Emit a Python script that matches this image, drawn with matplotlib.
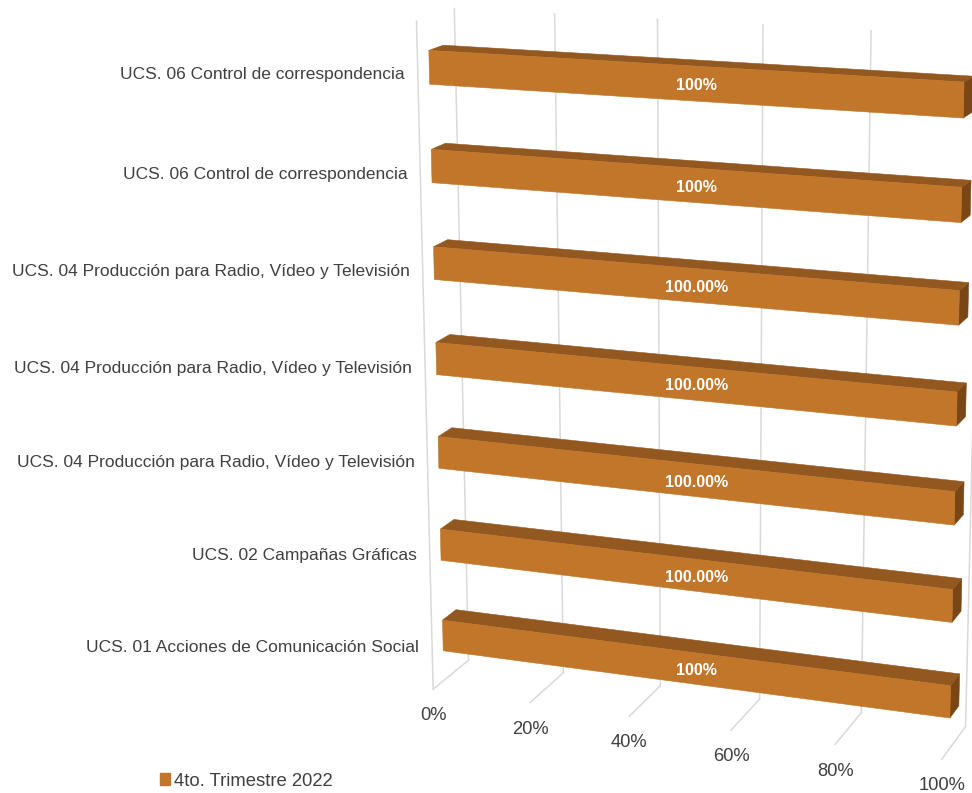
import matplotlib
matplotlib.use('Agg')
import matplotlib.pyplot as plt
from matplotlib.patches import Patch
import numpy as np

# datos (de abajo hacia arriba)
categorias = [
    'UCS. 01 Acciones de Comunicación Social',
    'UCS. 02 Campañas Gráficas',
    'UCS. 04 Producción para Radio, Vídeo y Televisión',
    'UCS. 04 Producción para Radio, Vídeo y Televisión',
    'UCS. 04 Producción para Radio, Vídeo y Televisión',
    'UCS. 06 Control de correspondencia',
    'UCS. 06 Control de correspondencia',
]
valores = [100, 100, 100, 100, 100, 100, 100]
decimales = [0, 2, 2, 2, 2, 0, 0]
ticks = [0, 20, 40, 60, 80, 100]
serie = '4to. Trimestre 2022'

# camara 3D -> pixeles (x = valor/100, y = profundidad, z = categoria/7)
CAMERA = np.array([
    [453.296148, 47.4812069, -40.6747614, 433.179922],
    [25.3598380, -11.7948092, -669.210511, 689.209482],
    [-0.0588098213, 0.0260801958, -0.0576104764, 1.0],
])
N = len(categorias)
VMAX = 100.0


def proyectar(v, d, z):
    h = CAMERA @ np.array([v / VMAX, d, z / N, 1.0])
    return h[0] / h[2], h[1] / h[2]


def cara(ax, puntos, color):
    xy = [proyectar(*p) for p in puntos]
    xs, ys = zip(*xy)
    ax.fill(xs, ys, color=color, ec=color, lw=0.4, zorder=3)
    return np.mean(xs), np.mean(ys)


plt.rcParams['font.family'] = ['Liberation Sans', 'DejaVu Sans']

fig = plt.figure(figsize=(9.72, 7.93), dpi=100)
ax = fig.add_axes([0, 0, 1, 1])
ax.set_xlim(0, 972)
ax.set_ylim(793, 0)
ax.axis('off')

grid = '#D9D9D9'
# lineas de division: pared del fondo y piso
for t in ticks:
    x0, y0 = proyectar(t, 1, 0)
    x1, y1 = proyectar(t, 1, N)
    ax.plot([x0, x1], [y0, y1], color=grid, lw=1.1, zorder=1)
    x2, y2 = proyectar(t, 0, 0)
    ax.plot([x0, x2], [y0, y2], color=grid, lw=1.1, zorder=1)
    ax.text(x2, y2 + 26.5, f'{t}%', ha='center', va='center',
            fontsize=13.2, color='#404040')
xa, ya = proyectar(0, 0, 0)
xb, yb = proyectar(0, 0, N)
ax.plot([xa, xb], [ya, yb], color=grid, lw=1.1, zorder=1)

# barras 3D
frente, arriba, lado = '#C1762A', '#935820', '#7A4616'
d0, d1 = 0.30, 0.68
media = 0.17
for i, (cat, val, dec) in enumerate(zip(categorias, valores, decimales)):
    zb, zt = i + 0.5 - media, i + 0.5 + media
    cara(ax, [(val, d0, zb), (val, d1, zb), (val, d1, zt), (val, d0, zt)], lado)
    cara(ax, [(0, d0, zt), (val, d0, zt), (val, d1, zt), (0, d1, zt)], arriba)
    cx, cy = cara(ax, [(0, d0, zb), (val, d0, zb), (val, d0, zt), (0, d0, zt)], frente)
    ax.text(cx, cy + 2, f'{val:.{dec}f}%', ha='center', va='center',
            fontsize=11.5, fontweight='bold', color='white', zorder=4)
    lx, ly = proyectar(0, 0, i + 0.5)
    ax.text(lx - 13, ly + 3, cat, ha='right', va='center',
            fontsize=12.5, color='#404040')

ax.legend(handles=[Patch(color=frente, label=serie)], loc='center left',
          bbox_to_anchor=(160 / 972, 1 - 781 / 793), frameon=False,
          fontsize=13.3, handlelength=0.55, handleheight=0.55,
          handletextpad=0.2, borderpad=0, borderaxespad=0,
          labelcolor='#404040')

fig.savefig('out.png', dpi=100)
